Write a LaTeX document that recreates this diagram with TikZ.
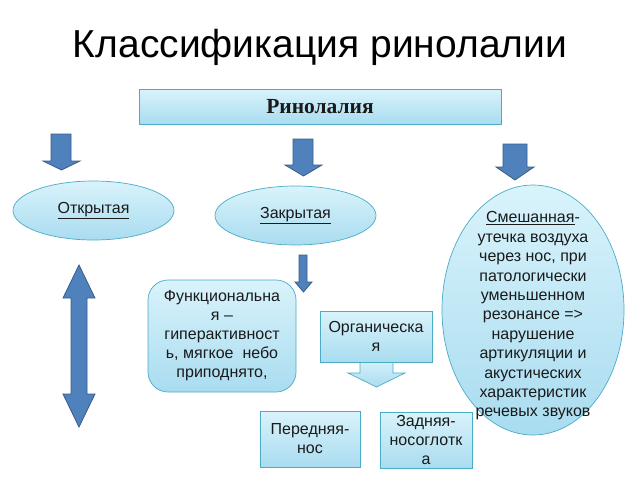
\documentclass[tikz,border=0pt]{standalone}
\usepackage{fontspec}
\setmainfont{Liberation Sans}
\newfontfamily\serifbold{Liberation Serif}
\usetikzlibrary{shapes.geometric}
\definecolor{arrowfill}{HTML}{4F81BD}
\definecolor{arrowline}{HTML}{385D8A}
\definecolor{boxline}{HTML}{4BACC6}
\definecolor{boxtop}{HTML}{D9F3FB}
\definecolor{boxbot}{HTML}{A9DCF0}
\definecolor{txt}{HTML}{1A1A1A}
\newcommand\dnarrow[7]{\draw[blockarrow] (#3,#5) -- (#4,#5) -- (#4,#6) -- (#2,#6) -- ({(#1+#2)/2},#7) -- (#1,#6) -- (#3,#6) -- cycle;}
\begin{document}
\begin{tikzpicture}[x=1pt,y=-1pt,
  blockarrow/.style={fill=arrowfill,draw=arrowline,line width=0.8pt,line join=miter},
  lightfill/.style={top color=boxtop,bottom color=boxbot,draw=boxline,line width=0.7pt},
  rectbox/.style={lightfill,rectangle,inner sep=2pt,align=center,text=txt,font=\fontsize{16}{19}\selectfont},
  ellbox/.style={lightfill,ellipse,inner sep=0pt,align=center,text=txt,font=\fontsize{16}{19.4}\selectfont},
  plaintext/.style={inner sep=0pt,align=center,text=txt,font=\fontsize{16}{19.4}\selectfont},
]
\useasboundingbox (0,0) rectangle (640,480);
\fill[white] (0,0) rectangle (640,480);

\node[text=black] (title) at (320,47) {\fontsize{39}{43}\selectfont Классификация ринолалии};

\node[rectbox,minimum width=362,minimum height=35] (rin) at (320,106.5) {\serifbold\bfseries\fontsize{21.5}{24}\selectfont Ринолалия};

% arrows from the top box
\dnarrow{43}{80}{51}{71}{134}{161}{170}
\dnarrow{285}{322}{293}{313}{139}{165}{176}
\dnarrow{496}{534}{503}{527}{144}{167}{180}

\node[ellbox,minimum width=161,minimum height=59] (open) at (93.5,210.5) {\underline{Открытая}};
\node[ellbox,minimum width=161,minimum height=59] (closed) at (295.5,215.5) {\underline{Закрытая}};
\node[ellbox,minimum width=182,minimum height=250] (mixed) at (533,310) {};
\node[plaintext] (mixedtext) at (533,316) {\underline{Смешанная}-\\утечка воздуха\\через нос, при\\патологически\\уменьшенном\\резонансе =>\\нарушение\\артикуляции и\\акустических\\характеристик\\речевых звуков};

% double arrow
\draw[blockarrow] (79,265) -- (95,298) -- (87,298) -- (87,394) -- (95,394) -- (79,427) -- (63,394) -- (71,394) -- (71,298) -- (63,298) -- cycle;

% small arrow under closed
\dnarrow{295}{312}{299}{307}{255}{282}{292}

\node[rectbox,rounded corners=20pt,minimum width=148,minimum height=112] (func) at (222,336) {Функциональна\\я –\\гиперактивност\\ь, мягкое\ \ небо\\приподнято,};

% wide light arrow under organic
\draw[lightfill] (360,358) -- (360,373) -- (348,373) -- (376.5,387) -- (405,373) -- (393,373) -- (393,358) -- cycle;
\node[rectbox,minimum width=112,minimum height=51] (org) at (376,336.5) {Органическа\\я};

\node[rectbox,minimum width=100,minimum height=56] (front) at (310,439) {Передняя-\\нос};
\node[rectbox,minimum width=92,minimum height=56] (back) at (426,440) {Задняя-\\носоглотк\\а};
\end{tikzpicture}
\end{document}
